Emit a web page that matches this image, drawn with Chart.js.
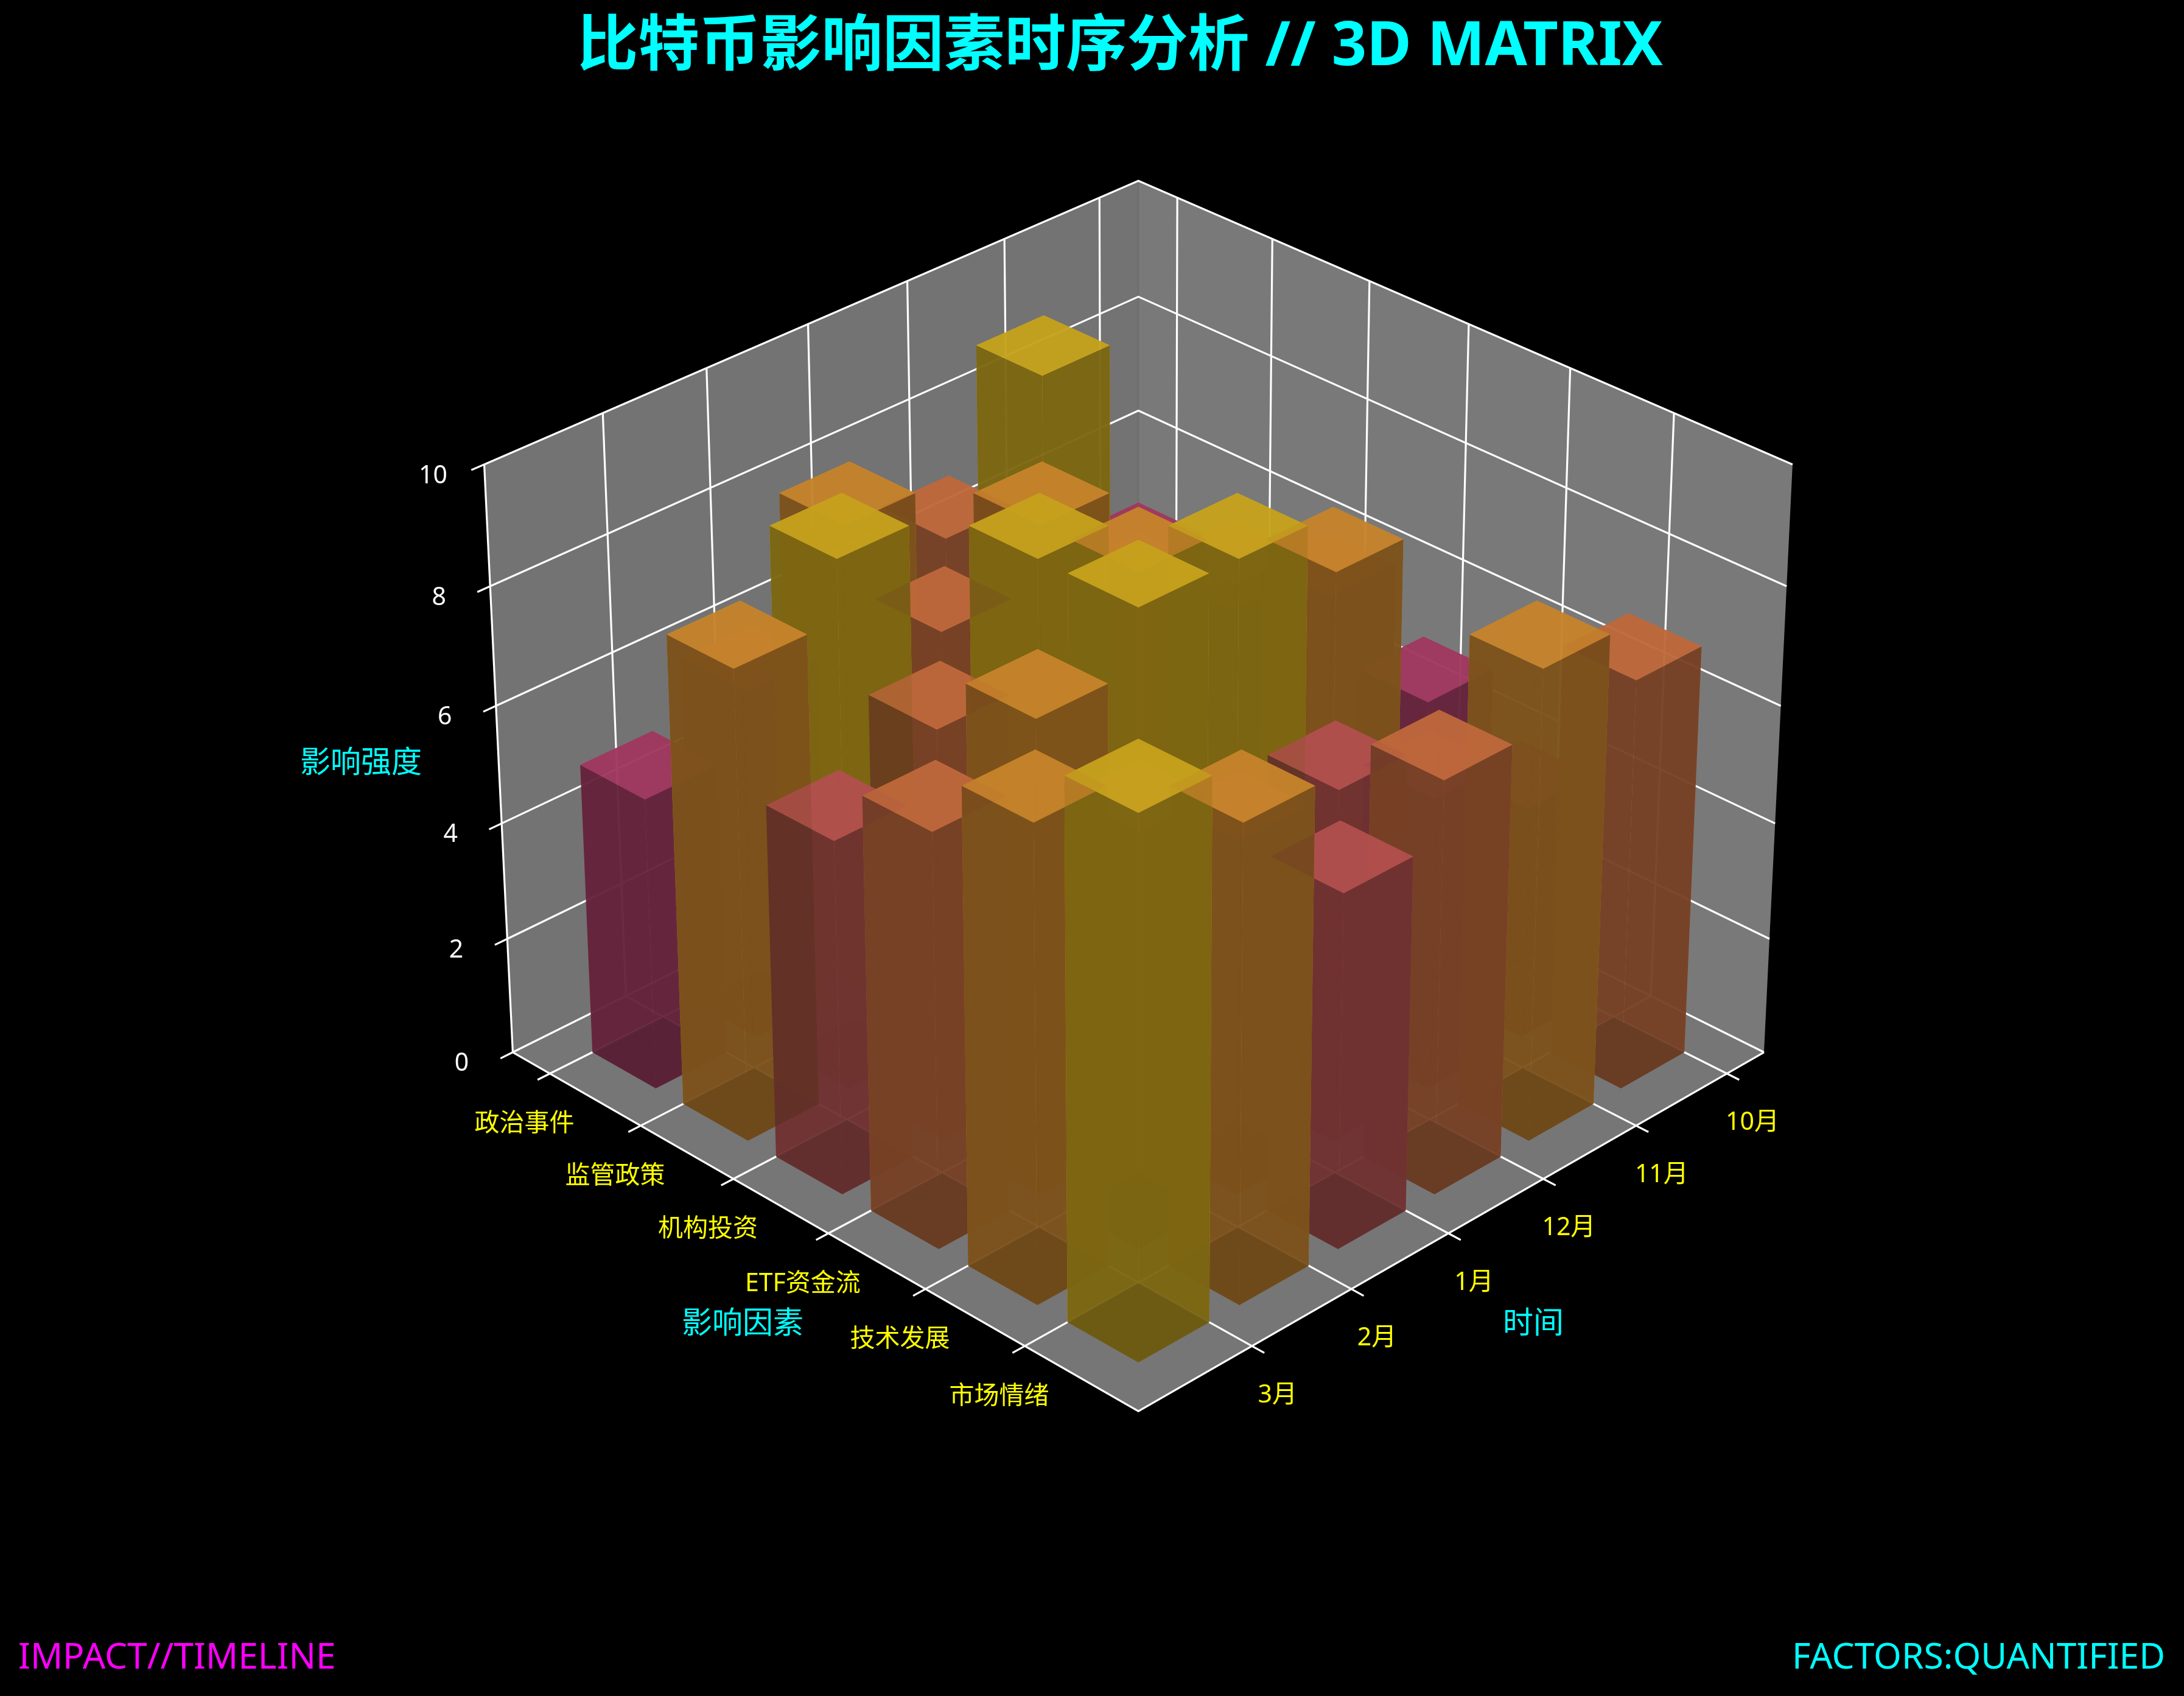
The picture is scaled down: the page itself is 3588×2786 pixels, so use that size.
<!DOCTYPE html>
<html><head><meta charset="utf-8">
<style>html,body{margin:0;padding:0;background:#000;overflow:hidden}canvas{display:block}</style>
<script src="https://cdn.jsdelivr.net/npm/chart.js@4"></script>
</head><body><canvas id="c" width="3588" height="2786" style="width:3588px;height:2786px"></canvas>
<script>
const months=['10月','11月','12月','1月','2月','3月'];
const factors=['政治事件','监管政策','机构投资','ETF资金流','技术发展','市场情绪'];
const zTicks=[0,2,4,6,8,10];
// impact per factor, one value per month
const politics=[5,9,7,8,6,5];
const regulation=[5,6,8,7,9,8];
const institutions=[6,7,8,9,7,6];
const etfFlow=[5,8,9,9,8,7];
const technology=[4,5,6,6,7,8];
const sentiment=[7,8,7,6,8,9];
const impact=[politics,regulation,institutions,etfFlow,technology,sentiment];

const BAR=0.7, LO=2.85-3.2656, HI=2.85+3.2656, ZHI=10;
const box=[1.19055,1.19055,0.89291], DIST=10;
const el=30*Math.PI/180, az=45*Math.PI/180;
const W=[Math.cos(el)*Math.cos(az),Math.cos(el)*Math.sin(az),Math.sin(el)];
const U=[-Math.SQRT1_2,Math.SQRT1_2,0];
const V=[W[1]*U[2]-W[2]*U[1],W[2]*U[0]-W[0]*U[2],W[0]*U[1]-W[1]*U[0]];
const dot=(a,b)=>a[0]*b[0]+a[1]*b[1]+a[2]*b[2];
function world(x,y,z){return [((x-LO)/(HI-LO)-.5)*box[0],((y-LO)/(HI-LO)-.5)*box[1],(z/ZHI-.5)*box[2]];}
function project(x,y,z){const p=world(x,y,z);const d=DIST-dot(W,p);return {x:dot(U,p)/d,y:dot(V,p)/d};}
function depth(x,y,z){return dot(W,world(x,y,z));}

const PLASMA=[[13,8,135],[65,4,157],[106,0,168],[143,13,164],[177,42,144],[204,71,120],[225,100,98],[241,132,75],[252,166,54],[252,206,37],[240,249,33]];
const ALPHA=.8;
function faceColor(v,shade){const t=Math.max(0,Math.min(9.999,v)),k=Math.floor(t),f=t-k;
 const c=PLASMA[k].map((a,n)=>(a+(PLASMA[k+1][n]-a)*f)*shade);
 return `rgba(${c[0]},${c[1]},${c[2]},${ALPHA})`;}
const S_TOP=.7667,S_BOT=.5333,S_FRONT=.4167,S_BACK=.8833;

const faces=[];
factors.forEach((_,j)=>months.forEach((_,i)=>{
 const v=impact[j][i],a=i,b=i+BAR,c=j,d=j+BAR;
 const q=[
  [[a,c,v],[b,c,v],[b,d,v],[a,d,v],S_TOP],
  [[a,c,0],[b,c,0],[b,d,0],[a,d,0],S_BOT],
  [[b,c,0],[b,d,0],[b,d,v],[b,c,v],S_FRONT],
  [[a,d,0],[b,d,0],[b,d,v],[a,d,v],S_FRONT],
  [[a,c,0],[a,d,0],[a,d,v],[a,c,v],S_BACK],
  [[a,c,0],[b,c,0],[b,c,v],[a,c,v],S_BACK]];
 q.forEach(f=>{const s=f[4],pts=f.slice(0,4);
  const dp=pts.reduce((t,p)=>t+depth(p[0],p[1],p[2]),0)/4;
  faces.push({pts,dp,color:faceColor(v,s)});});
}));
faces.sort((p,q)=>p.dp-q.dp);

const layers=[];
const poly=(pts,color)=>layers.push({data:pts.map(p=>project(p[0],p[1],p[2])),polygon:color,showLine:false,pointRadius:0});
const line=(pts,w=3.2,col='#ffffff')=>layers.push({data:pts.map(p=>project(p[0],p[1],p[2])),borderColor:col,borderWidth:w,showLine:true,pointRadius:0,tension:0});
poly([[HI,LO,0],[LO,LO,0],[LO,LO,ZHI],[HI,LO,ZHI]],'rgb(115,115,115)');
poly([[LO,HI,0],[LO,LO,0],[LO,LO,ZHI],[LO,HI,ZHI]],'rgb(121,121,121)');
poly([[HI,LO,0],[HI,HI,0],[LO,HI,0],[LO,LO,0]],'rgb(118,118,118)');
line([[LO,LO,0],[LO,LO,ZHI]],1.5,'rgb(108,108,108)');
const T=.12;
zTicks.forEach(z=>{line([[HI,LO,z],[LO,LO,z],[LO,HI,z]]);line([[HI,LO,z],[HI+T,LO,z]]);});
months.forEach((_,i)=>{line([[i,HI,0],[i,LO,0],[i,LO,ZHI]]);line([[i,HI,0],[i,HI+T,0]]);});
factors.forEach((_,j)=>{line([[HI,j,0],[LO,j,0],[LO,j,ZHI]]);line([[HI,j,0],[HI+T,j,0]]);});
line([[HI,LO,0],[HI,HI,0],[LO,HI,0]]);
line([[HI,LO,0],[HI,LO,ZHI]]);
faces.forEach(f=>poly(f.pts,f.color));
layers.forEach((l,k)=>{l.order=-k;l.label='';});

const SC=12481,CX=1870.2,CY=1256.5;
const texts={
 id:'texts',
 beforeDatasetDraw(ch,{meta}){const ds=ch.data.datasets[meta.index];if(!ds.polygon)return;
  const g=ch.ctx;g.save();g.beginPath();meta.data.forEach((p,n)=>n?g.lineTo(p.x,p.y):g.moveTo(p.x,p.y));g.closePath();g.fillStyle=ds.polygon;g.fill();g.restore();},
 afterDraw(ch){const g=ch.ctx,sx=ch.scales.x,sy=ch.scales.y;
  const at=(x,y,z)=>{const p=project(x,y,z);return [sx.getPixelForValue(p.x),sy.getPixelForValue(p.y)];};
  const FONT='"Noto Sans","Noto Sans CJK SC"';
  const put=(s,x,y,size,col,al='center',base='middle',w='normal')=>{g.font=`${w} ${size}px ${FONT}`;g.fillStyle=col;g.textAlign=al;g.textBaseline=base;g.fillText(s,x,y);};
  g.save();
  factors.forEach((s,j)=>{const [x,y]=at(HI,j,0);put(s,x-42,y+83,41,'#ffff00');});
  months.forEach((s,i)=>{const [x,y]=at(i,HI,0);put(s,x+42,y+81,41,'#ffff00');});
  zTicks.forEach(z=>{const [x,y]=at(HI,LO,z);put(String(z),x-84,y+19,41,'#ffffff');});
  put('影响强度',593,1255,50,'#00ffff');
  put('影响因素',1220,2176,50,'#00ffff');
  put('时间',2519,2176,50,'#00ffff');
  put('比特币影响因素时序分析 // 3D MATRIX',948,107,100.4,'#00ffff','left','alphabetic','bold');
  put('IMPACT//TIMELINE',30,2741,58.7,'#ff00ff','left','alphabetic');
  put('FACTORS:QUANTIFIED',3557,2741,58.7,'#00ffff','right','alphabetic');
  g.restore();}
};
Chart.defaults.font.family='"Noto Sans","Noto Sans CJK SC"';
new Chart(document.getElementById('c'),{
 type:'scatter',
 data:{datasets:layers},
 plugins:[texts],
 options:{responsive:false,devicePixelRatio:1,animation:false,
  layout:{padding:0},
  events:[],
  datasets:{scatter:{clip:false}},
  plugins:{legend:{display:false},tooltip:{enabled:false},title:{display:false}},
  scales:{
   x:{type:'linear',display:false,min:-CX/SC,max:(3588-CX)/SC},
   y:{type:'linear',display:false,min:(CY-2786)/SC,max:CY/SC}}}
});
</script></body></html>
